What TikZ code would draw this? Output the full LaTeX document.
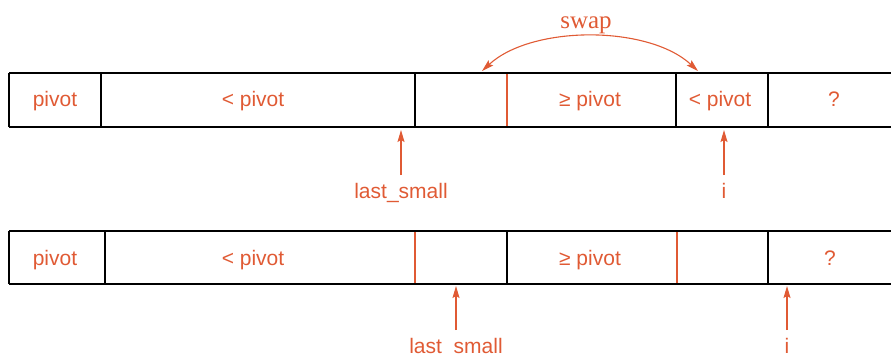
\documentclass[tikz,border=0pt]{standalone}
\usepackage{fontspec}
\setmainfont{Liberation Sans}
\newfontfamily\swapfont{Liberation Serif}
\usetikzlibrary{arrows.meta, positioning}
\definecolor{markorange}{RGB}{224,90,52}

\begin{document}
\begin{tikzpicture}[
  x=1pt, y=-1pt,
  node distance=45pt,
  cell/.style={text=markorange, anchor=base, font=\fontsize{21}{25}\selectfont},
  ptrlabel/.style={text=markorange, inner sep=8pt, font=\fontsize{21}{25}\selectfont},
  swaplabel/.style={text=markorange, anchor=base, font=\swapfont\fontsize{25}{29}\selectfont},
  bar/.style={draw=black, line width=2pt},
  split/.style={draw=markorange, line width=1.05pt},
  pointer/.style={-{Stealth[length=12pt, width=7pt, inset=2pt]}, markorange, line width=1.1pt},
  swaparrow/.style={{Stealth[length=12pt, width=7pt, inset=2pt]}-{Stealth[length=12pt, width=7pt, inset=2pt]}, markorange, line width=1.1pt}
]
\useasboundingbox (0,0) rectangle (891,354);

% first state of the array
\draw[bar] (9,73) -- (891,73) (9,127) -- (891,127);
\foreach \xdiv in {9,101,415,676,768}
  \draw[bar] (\xdiv,73) -- (\xdiv,127);
\draw[split] (507,74) -- (507,126);

\node[cell] (pivotA) at (55,106) {pivot};
\node[cell] (lessA) at (253,106) {< pivot};
\node[cell] (geqA) at (590,106) {≥ pivot};
\node[cell] (lessB) at (720,106) {< pivot};
\node[cell] (unknownA) at (834,106) {?};

% swap of the two cells
\coordinate (swapL) at (482,71);
\coordinate (swapR) at (698,71);
\draw[swaparrow] (swapL) .. controls (532,25) and (648,25) .. (swapR);
\node[swaplabel] (swap) at (586,28) {swap};

% pointers below the first state
\coordinate (smallTipA) at (401,130);
\coordinate (iTipA) at (724,130);
\node[ptrlabel, below=of smallTipA] (smallA) {last\_small};
\node[ptrlabel, below=of iTipA] (iA) {i};
\draw[pointer] (smallA) -- (smallTipA);
\draw[pointer] (iA) -- (iTipA);

% second state of the array
\draw[bar] (9,231) -- (891,231) (9,284) -- (891,284);
\foreach \xdiv in {9,105,507,768}
  \draw[bar] (\xdiv,231) -- (\xdiv,284);
\draw[split] (415,232) -- (415,283);
\draw[split] (677,232) -- (677,283);

\node[cell] (pivotB) at (55,265) {pivot};
\node[cell] (lessC) at (253,265) {< pivot};
\node[cell] (geqB) at (590,265) {≥ pivot};
\node[cell] (unknownB) at (830,265) {?};

% pointers below the second state
\coordinate (smallTipB) at (456,286);
\coordinate (iTipB) at (787,286);
\node[ptrlabel, below=44pt of smallTipB] (smallB) {last\_small};
\node[ptrlabel, below=44pt of iTipB] (iB) {i};
\draw[pointer] (smallB) -- (smallTipB);
\draw[pointer] (iB) -- (iTipB);

\end{tikzpicture}
\end{document}
